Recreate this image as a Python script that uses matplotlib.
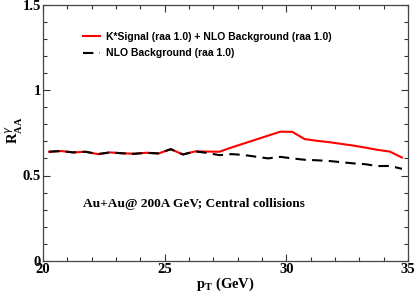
import matplotlib
matplotlib.use("Agg")
import matplotlib.pyplot as plt
from matplotlib.ticker import MultipleLocator

# pT bins (GeV)
pt = [20.25, 20.75, 21.25, 21.75, 22.25, 22.75, 23.25, 23.75, 24.25, 24.75,
      25.25, 25.75, 26.25, 26.75, 27.25, 27.75, 28.25, 28.75, 29.25, 29.75,
      30.25, 30.75, 31.25, 31.75, 32.25, 32.75, 33.25, 33.75, 34.25, 34.75]

# K* signal + NLO background
raa_signal = [0.639, 0.643, 0.635, 0.639, 0.625, 0.635, 0.630, 0.627, 0.633, 0.629,
              0.654, 0.623, 0.641, 0.640, 0.639, 0.664, 0.687, 0.710, 0.733, 0.756,
              0.755, 0.713, 0.703, 0.695, 0.685, 0.675, 0.663, 0.650, 0.640, 0.605]

# NLO background only
raa_nlo = [0.639, 0.643, 0.635, 0.639, 0.625, 0.635, 0.630, 0.627, 0.633, 0.629,
           0.654, 0.623, 0.641, 0.632, 0.619, 0.625, 0.620, 0.610, 0.600, 0.609,
           0.600, 0.592, 0.589, 0.585, 0.578, 0.571, 0.566, 0.555, 0.556, 0.539]

serif = ["Liberation Serif", "DejaVu Serif"]
sans = ["Liberation Sans", "DejaVu Sans"]

fig = plt.figure(figsize=(4.15, 2.93), dpi=100)
ax = fig.add_axes([43 / 415, 1 - 261 / 293, 365 / 415, 256.5 / 293])

ax.plot(pt, raa_signal, color="red", lw=1.5,
        label="K*Signal (raa 1.0) + NLO Background (raa 1.0)")
ax.plot(pt, raa_nlo, color="black", lw=1.5, dashes=(5, 3),
        label="NLO Background (raa 1.0)")

ax.set_xlim(20, 35)
ax.set_ylim(0, 1.5)
ax.xaxis.set_major_locator(MultipleLocator(5))
ax.xaxis.set_minor_locator(MultipleLocator(1))
ax.yaxis.set_minor_locator(MultipleLocator(0.1))
ax.set_yticks([0, 0.5, 1, 1.5])
ax.set_yticklabels(["0", "0.5", "1", "1.5"])
ax.tick_params(which="both", direction="in", top=True, right=True,
               color="#333333", width=0.8)
ax.tick_params(which="major", length=5, pad=1.5)
ax.tick_params(which="minor", length=3)
for lab in ax.get_xticklabels() + ax.get_yticklabels():
    lab.set_family(serif)
    lab.set_weight("bold")
    lab.set_fontsize(10.5)
for s in ax.spines.values():
    s.set_color("#444444")
    s.set_linewidth(0.9)

ax.set_xlabel(r"p$_\mathregular{T}$ (GeV)", family=serif, weight="bold",
              fontsize=10.5, labelpad=0)
fig.text(14 / 415, 1 - 130 / 293, r"R$^{\gamma}_{\mathregular{AA}}$",
         family=serif, weight="bold", fontsize=10.5, rotation=90,
         ha="center", va="center")

ax.text(21.63, 0.335, "Au+Au@ 200A GeV; Central collisions", family=serif,
        weight="bold", fontsize=9.6, va="center")

leg = ax.legend(loc="upper left", bbox_to_anchor=(0.11, 0.893), frameon=False,
                borderaxespad=0, borderpad=0, handlelength=1.6,
                handletextpad=0.6, labelspacing=0.6,
                prop={"family": sans, "weight": "bold", "size": 7.5})

fig.savefig("out.png", dpi=100)
